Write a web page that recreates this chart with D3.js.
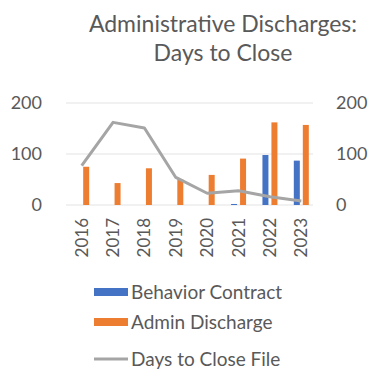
<!DOCTYPE html>
<html>
<head>
<meta charset="utf-8">
<script src="https://cdn.jsdelivr.net/npm/d3@7"></script>
<style>
  html, body { margin: 0; padding: 0; background: #ffffff; }
  svg { display: block; font-family: Lato, "Open Sans", sans-serif; }
</style>
</head>
<body>
<svg id="chart" width="372" height="377"></svg>
<script>
// Chart data
const years = ["2016", "2017", "2018", "2019", "2020", "2021", "2022", "2023"];
const behaviorContract = [0, 0, 0, 0, 0, 2, 98, 87];
const adminDischarge = [75, 43, 72, 50, 59, 91, 162, 157];
const daysToClose = [77, 162, 151, 54, 23, 28, 16, 8];
const leftTicks = [0, 100, 200];
const rightTicks = [0, 100, 200];
const titleLines = ["Administrative Discharges:", "Days to Close"];

const colors = { blue: "#4472c4", orange: "#ed7d31", grey: "#a5a5a5", text: "#595959", grid: "#e3e3e3" };

const svg = d3.select("#chart");

const x = d3.scaleBand().domain(years).range([66, 317]);
const yLeft = d3.scaleLinear().domain([0, 200]).range([205, 103]);
const yRight = d3.scaleLinear().domain([0, 200]).range([205, 103]);

// Title
svg.append("g").selectAll("text").data(titleLines).join("text")
  .attr("x", 223).attr("y", (d, i) => 32 + i * 29)
  .attr("text-anchor", "middle")
  .attr("fill", colors.text)
  .attr("font-size", 23)
  .text(d => d);

// Gridlines
svg.append("g").selectAll("line").data(leftTicks).join("line")
  .attr("x1", 66).attr("x2", 313)
  .attr("y1", d => yLeft(d)).attr("y2", d => yLeft(d))
  .attr("stroke", colors.grid).attr("stroke-width", 1);

// Left axis
const leftAxis = svg.append("g").attr("transform", "translate(44,0)")
  .call(d3.axisLeft(yLeft).tickValues(leftTicks).tickSize(0).tickPadding(2));
leftAxis.select(".domain").remove();
leftAxis.selectAll("text").attr("fill", colors.text).attr("font-size", 18).attr("font-family", "Lato, sans-serif");

// Right axis
const rightAxis = svg.append("g").attr("transform", "translate(334,0)")
  .call(d3.axisRight(yRight).tickValues(rightTicks).tickSize(0).tickPadding(2));
rightAxis.select(".domain").remove();
rightAxis.selectAll("text").attr("fill", colors.text).attr("font-size", 18).attr("font-family", "Lato, sans-serif");

// Bars
const barW = 6, off = 4.5;
const barsG = svg.append("g");
barsG.selectAll("rect.bc").data(years).join("rect").attr("class", "bc")
  .attr("x", (d) => x(d) + x.bandwidth() / 2 - off - barW / 2)
  .attr("y", (d, i) => yLeft(behaviorContract[i]))
  .attr("width", barW)
  .attr("height", (d, i) => yLeft(0) - yLeft(behaviorContract[i]))
  .attr("fill", colors.blue);
barsG.selectAll("rect.ad").data(years).join("rect").attr("class", "ad")
  .attr("x", (d) => x(d) + x.bandwidth() / 2 + off - barW / 2)
  .attr("y", (d, i) => yLeft(adminDischarge[i]))
  .attr("width", barW)
  .attr("height", (d, i) => yLeft(0) - yLeft(adminDischarge[i]))
  .attr("fill", colors.orange);

// Days to close line
const line = d3.line()
  .x((d, i) => x(years[i]) + x.bandwidth() / 2)
  .y(d => yRight(d));
svg.append("path").datum(daysToClose)
  .attr("d", line)
  .attr("fill", "none")
  .attr("stroke", colors.grey)
  .attr("stroke-width", 3)
  .attr("stroke-linejoin", "round");

// X axis labels (rotated)
const xAxis = svg.append("g").attr("transform", "translate(0,210)")
  .call(d3.axisBottom(x).tickSize(0).tickPadding(0));
xAxis.select(".domain").remove();
xAxis.selectAll("text")
  .attr("fill", colors.text).attr("font-size", 17).attr("font-family", "Lato, sans-serif")
  .attr("transform", "rotate(-90)")
  .attr("text-anchor", "end")
  .attr("x", -8).attr("y", 0).attr("dy", "0.35em");

// Legend
const legend = [
  { label: "Behavior Contract", color: colors.blue, type: "rect", y: 292 },
  { label: "Admin Discharge", color: colors.orange, type: "rect", y: 322 },
  { label: "Days to Close File", color: colors.grey, type: "line", y: 359 }
];
const lg = svg.append("g").selectAll("g").data(legend).join("g");
lg.filter(d => d.type === "rect").append("rect")
  .attr("x", 94).attr("y", d => d.y - 4).attr("width", 34).attr("height", 8)
  .attr("fill", d => d.color);
lg.filter(d => d.type === "line").append("line")
  .attr("x1", 94).attr("x2", 128).attr("y1", d => d.y).attr("y2", d => d.y)
  .attr("stroke", d => d.color).attr("stroke-width", 3);
lg.append("text")
  .attr("x", 131).attr("y", d => d.y).attr("dy", "0.35em")
  .attr("fill", colors.text).attr("font-size", 19)
  .text(d => d.label);
</script>
</body>
</html>
